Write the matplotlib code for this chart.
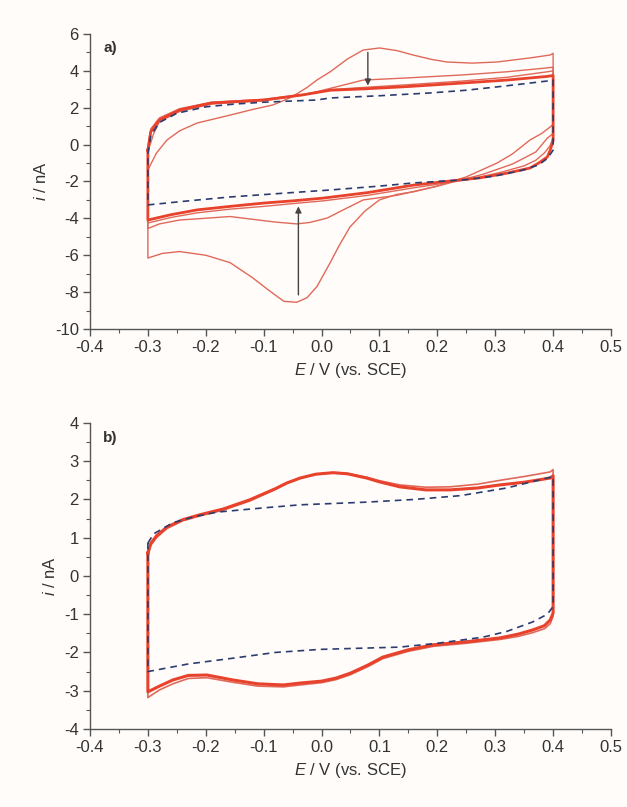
import numpy as np
import matplotlib
matplotlib.use('Agg')
from matplotlib import pyplot as plt
from matplotlib.ticker import MultipleLocator

# -------------- 데이터 ------------------------------------------------
# a) 첫 번째 사이클 (큰 피크)
a1_E = [-0.30, -0.285, -0.267, -0.245, -0.215, -0.158, -0.12, -0.084, -0.055, -0.043, -0.025, -0.008,
        0.015, 0.045, 0.072, 0.10, 0.13, 0.158, 0.19, 0.217, 0.26, 0.303, 0.36, 0.395, 0.40,
        0.40, 0.395, 0.38, 0.36, 0.33, 0.303, 0.25, 0.20, 0.16, 0.13, 0.10, 0.075, 0.049, 0.03, 0.015,
        -0.008, -0.025, -0.043, -0.065, -0.089, -0.12, -0.158, -0.20, -0.245, -0.275, -0.30, -0.30]
a1_i = [-1.37, -0.45, 0.25, 0.75, 1.17, 1.60, 1.90, 2.15, 2.53, 2.75, 3.10, 3.50,
        3.95, 4.65, 5.13, 5.24, 5.10, 4.86, 4.62, 4.48, 4.42, 4.48, 4.70, 4.86, 4.95,
        1.10, 0.96, 0.60, 0.25, -0.50, -1.00, -1.75, -2.25, -2.55, -2.70, -3.00, -3.60, -4.47, -5.50, -6.40,
        -7.70, -8.30, -8.55, -8.50, -7.95, -7.20, -6.40, -6.00, -5.80, -5.90, -6.15, -1.37]

# a) 두 번째 사이클 (작은 피크)
a2_E = [-0.30, -0.29, -0.28, -0.245, -0.19, -0.10, -0.032, 0.015, 0.072, 0.15, 0.244, 0.32, 0.39, 0.40,
        0.40, 0.39, 0.37, 0.33, 0.28, 0.20, 0.13, 0.072, 0.04, 0.01, -0.02, -0.043, -0.08, -0.158, -0.245, -0.28, -0.30, -0.30]
a2_i = [-0.40, 0.60, 1.25, 1.80, 2.20, 2.38, 2.68, 3.05, 3.50, 3.62, 3.78, 3.95, 4.16, 4.20,
        0.60, 0.35, -0.40, -1.05, -1.60, -2.25, -2.75, -3.00, -3.50, -3.98, -4.22, -4.30, -4.20, -3.90, -4.09, -4.30, -4.55, -0.40]

# a) 이후 사이클 (두꺼운 띠)
a3_E = [-0.30, -0.295, -0.28, -0.245, -0.19, -0.10, -0.032, 0.015, 0.072, 0.15, 0.244, 0.32, 0.39, 0.40,
        0.40, 0.395, 0.39, 0.375, 0.36, 0.32, 0.274, 0.20, 0.158, 0.08, 0.003, -0.05, -0.10, -0.158, -0.215, -0.26, -0.30, -0.30]
a3_i = [-0.30, 0.70, 1.34, 1.88, 2.26, 2.42, 2.70, 2.95, 3.02, 3.15, 3.34, 3.50, 3.70, 3.75,
        0.20, -0.30, -0.67, -1.00, -1.27, -1.55, -1.80, -2.05, -2.20, -2.60, -2.90, -3.05, -3.17, -3.35, -3.54, -3.80, -4.09, -0.30]
a4_E = [-0.30, -0.295, -0.28, -0.245, -0.19, -0.10, -0.032, 0.015, 0.072, 0.15, 0.244, 0.32, 0.39, 0.40,
        0.40, 0.395, 0.385, 0.37, 0.35, 0.31, 0.26, 0.20, 0.158, 0.08, 0.003, -0.05, -0.10, -0.158, -0.215, -0.26, -0.30, -0.30]
a4_i = [-0.10, 0.85, 1.45, 1.95, 2.30, 2.45, 2.72, 2.98, 3.10, 3.25, 3.45, 3.65, 3.95, 4.00,
        0.40, -0.05, -0.45, -0.85, -1.15, -1.50, -1.85, -2.15, -2.35, -2.75, -3.05, -3.20, -3.35, -3.50, -3.70, -3.95, -4.25, -0.10]

# a) 배경 (점선)
ad_E = [-0.30, -0.295, -0.28, -0.25, -0.20, -0.15, -0.10, -0.008, 0.015, 0.10, 0.187, 0.25, 0.303, 0.35, 0.39, 0.40,
        0.40, 0.39, 0.375, 0.348, 0.30, 0.25, 0.158, 0.10, 0.015, -0.05, -0.158, -0.23, -0.30, -0.30]
ad_i = [-0.50, 0.50, 1.20, 1.70, 2.05, 2.20, 2.30, 2.42, 2.53, 2.65, 2.80, 2.95, 3.13, 3.30, 3.45, 3.50,
        -0.30, -0.75, -1.10, -1.38, -1.70, -1.90, -2.08, -2.25, -2.46, -2.60, -2.84, -3.05, -3.27, -0.50]

# b) 사이클
b1_E = [-0.30, -0.295, -0.285, -0.267, -0.24, -0.21, -0.17, -0.124, -0.08, -0.06, -0.037, -0.01, 0.02, 0.045,
        0.078, 0.10, 0.135, 0.18, 0.222, 0.27, 0.308, 0.35, 0.395, 0.40,
        0.40, 0.395, 0.385, 0.365, 0.34, 0.308, 0.25, 0.193, 0.15, 0.106, 0.08, 0.05, 0.025, 0.00, -0.037,
        -0.066, -0.11, -0.153, -0.198, -0.23, -0.257, -0.28, -0.30, -0.30]
b1_i = [0.60, 0.85, 1.05, 1.28, 1.47, 1.60, 1.75, 1.99, 2.28, 2.43, 2.56, 2.66, 2.70, 2.67,
        2.56, 2.46, 2.33, 2.25, 2.25, 2.30, 2.38, 2.45, 2.56, 2.62,
        -0.97, -1.15, -1.30, -1.41, -1.52, -1.62, -1.72, -1.80, -1.93, -2.12, -2.33, -2.54, -2.67, -2.75, -2.80,
        -2.85, -2.82, -2.72, -2.59, -2.60, -2.72, -2.88, -3.03, 0.60]
b2_E = [-0.30, -0.295, -0.285, -0.267, -0.24, -0.21, -0.17, -0.124, -0.08, -0.06, -0.037, -0.01, 0.02, 0.045,
        0.078, 0.10, 0.135, 0.18, 0.222, 0.27, 0.308, 0.35, 0.395, 0.40,
        0.40, 0.395, 0.385, 0.365, 0.34, 0.308, 0.25, 0.193, 0.15, 0.106, 0.08, 0.05, 0.025, 0.00, -0.037,
        -0.066, -0.11, -0.153, -0.198, -0.23, -0.257, -0.28, -0.30, -0.30]
b2_i = [0.50, 0.80, 1.00, 1.24, 1.44, 1.57, 1.72, 1.96, 2.26, 2.42, 2.55, 2.66, 2.70, 2.68,
        2.58, 2.49, 2.38, 2.32, 2.33, 2.40, 2.50, 2.60, 2.72, 2.78,
        -1.05, -1.25, -1.38, -1.48, -1.58, -1.66, -1.76, -1.84, -1.97, -2.16, -2.37, -2.58, -2.71, -2.79, -2.85,
        -2.90, -2.88, -2.78, -2.66, -2.68, -2.82, -2.98, -3.18, 0.50]

# b) 배경 (점선)
bd_E = [-0.30, -0.29, -0.257, -0.22, -0.18, -0.10, -0.037, 0.078, 0.16, 0.24, 0.32, 0.40,
        0.40, 0.39, 0.365, 0.32, 0.279, 0.20, 0.135, -0.003, -0.08, -0.153, -0.23, -0.30, -0.30]
bd_i = [0.86, 1.10, 1.39, 1.55, 1.67, 1.78, 1.86, 1.93, 2.00, 2.10, 2.30, 2.60,
        -0.80, -1.00, -1.20, -1.45, -1.60, -1.76, -1.86, -1.92, -2.00, -2.15, -2.30, -2.50, 0.86]

x_ticks = [-0.4, -0.3, -0.2, -0.1, 0.0, 0.1, 0.2, 0.3, 0.4, 0.5]
# ---------------------------------------------------------------------------


# -------------- 스타일 -------------------------------------------------------
plt.rcParams['font.family'] = ['Liberation Sans', 'DejaVu Sans']
plt.rcParams['mathtext.fontset'] = 'custom'
plt.rcParams['mathtext.rm'] = 'Liberation Sans'
plt.rcParams['mathtext.it'] = 'Liberation Sans:italic'
plt.rcParams['axes.unicode_minus'] = False
plt.rcParams['font.size'] = 12

bg = '#fffcfa'
red = '#e8422c'
red_thin = '#e0695a'
navy = '#2b3d6e'
axis_col = '#555555'

fig = plt.figure(figsize=(6.27, 8.07), dpi=100, facecolor=bg)
ax_a = fig.add_axes([0.1435, 0.5923, 0.831, 0.3656])
ax_b = fig.add_axes([0.1435, 0.0967, 0.831, 0.3792])
# ---------------------------------------------------------------------------


def style_axis(ax, ylim, ymajor, yminor, label):
    ax.set_facecolor(bg)
    ax.set_xlim(-0.4, 0.5)
    ax.set_ylim(*ylim)
    ax.set_xticks(x_ticks)
    ax.set_xticklabels(['%.1f' % t for t in x_ticks])
    ax.xaxis.set_minor_locator(MultipleLocator(0.05))
    ax.yaxis.set_major_locator(MultipleLocator(ymajor))
    ax.yaxis.set_minor_locator(MultipleLocator(yminor))
    for s in ['top', 'right']:
        ax.spines[s].set_visible(False)
    for s in ['left', 'bottom']:
        ax.spines[s].set_color(axis_col)
        ax.spines[s].set_linewidth(1.0)
    ax.tick_params(which='major', direction='out', length=5, width=1.0, color=axis_col,
                   labelcolor='#333333', labelsize=12, pad=3)
    ax.tick_params(which='minor', direction='out', length=3, width=0.8, color=axis_col)
    ax.set_xlabel('$E$ / V (vs. SCE)', color='#333333', fontsize=12, labelpad=4)
    ax.set_ylabel('$i$ / nA', color='#333333', fontsize=12, labelpad=4)
    ax.text(0.025, 0.975, label, transform=ax.transAxes, ha='left', va='top',
            fontsize=11, fontweight='bold', color='#333333')


# -------------- a) ----------------------------------------------------------
style_axis(ax_a, (-10, 6), 2, 1, 'a)')
ax_a.plot(a1_E, a1_i, color=red_thin, lw=1.0)
ax_a.plot(a2_E, a2_i, color=red_thin, lw=1.0)
ax_a.plot(a4_E, a4_i, color=red_thin, lw=1.0)
ax_a.plot(a3_E, a3_i, color=red, lw=2.0)
ax_a.plot(ad_E, ad_i, color=navy, lw=1.2, ls=(0, (4, 3)))
ax_a.annotate('', xy=(0.08, 3.05), xytext=(0.08, 5.15),
              arrowprops=dict(arrowstyle='-|>', color='#444444', lw=1.0, mutation_scale=9))
ax_a.annotate('', xy=(-0.04, -3.2), xytext=(-0.04, -8.3),
              arrowprops=dict(arrowstyle='-|>', color='#444444', lw=1.0, mutation_scale=9))

# -------------- b) ----------------------------------------------------------
style_axis(ax_b, (-4, 4), 1, 0.5, 'b)')
ax_b.plot(b2_E, b2_i, color=red_thin, lw=1.2)
ax_b.plot(b1_E, b1_i, color=red, lw=2.2)
ax_b.plot(bd_E, bd_i, color=navy, lw=1.2, ls=(0, (4, 3)))

fig.savefig('out.png', dpi=100, facecolor=bg)
